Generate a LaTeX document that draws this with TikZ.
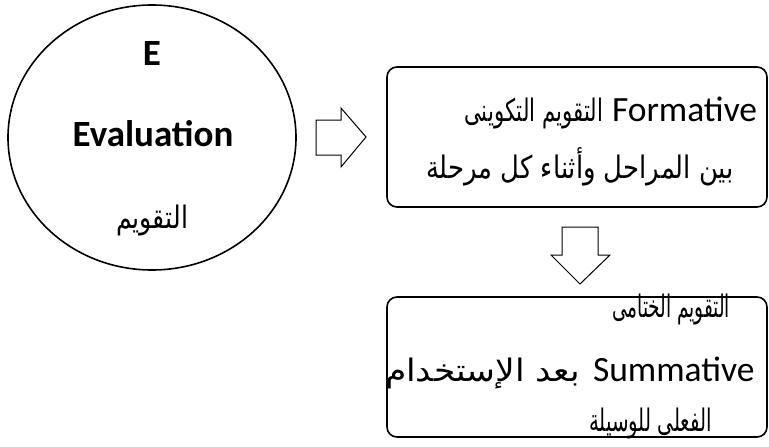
\documentclass[tikz,border=0pt]{standalone}
\usepackage{fontspec}
\usepackage{graphicx}
\usetikzlibrary{shapes.geometric}
\setmainfont{Carlito}
\newfontfamily\arabicfont[Script=Arabic]{DejaVu Sans}
\TeXXeTstate=1
% Arabic run at a fixed height, narrowed or stretched to a given width
\newcommand\arfit[2]{\resizebox{#1}{\height}{\arabicfont\fontsize{31}{37}\selectfont #2}}
\begin{document}
\begin{tikzpicture}[x=1pt,y=-1pt,
  outline/.style={draw=black,line width=1.6pt},
  blockarrow/.style={draw=black,line width=1pt,line join=miter,fill=white},
  txt/.style={inner sep=0pt,outer sep=0pt},
  big/.style={txt,font=\fontsize{37}{44}\selectfont\bfseries},
  latin/.style={txt,font=\fontsize{35.5}{42}\selectfont}]
\useasboundingbox[fill=white] (0,0) rectangle (769,447);

% circle with the stage name
\node[outline,ellipse,minimum width=288pt,minimum height=265pt,inner sep=0pt] (circ) at (152,137.5) {};
\node[big,anchor=base] (e) at (152,65) {E};
\node[big,anchor=base] (eval) at (153,146) {Evaluation};
\node[txt,anchor=base] (tq) at (152,228) {\arfit{72pt}{\beginR التقويم\endR}};

% formative box
\draw[outline,rounded corners=10pt] (387,67) rectangle (767,207);
\node[latin,anchor=base west] (form) at (612,121) {Formative};
\node[txt,anchor=base west] (form1) at (464,121) {\arfit{139pt}{\beginR التقويم التكوينى\endR}};
\node[txt,anchor=base west] (form2) at (426,178) {\arfit{308pt}{\beginR بين المراحل وأثناء كل مرحلة\endR}};

% summative box
\draw[outline,rounded corners=10pt] (387,297) rectangle (767,437);
\node[txt,anchor=base west] (sum1) at (612,317) {\arfit{118pt}{\beginR التقويم الختامى\endR}};
\node[txt,anchor=base west] (sum2a) at (385,381) {\arfit{195pt}{\beginR بعد الإستخدام\endR}};
\node[latin,anchor=base west] (sum) at (593,381) {Summative};
\node[txt,anchor=base west] (sum3) at (589,431) {\arfit{123pt}{\beginR الفعلى للوسيلة\endR}};

% block arrows
\draw[blockarrow] (316,120) -- (341,120) -- (341,108) -- (366,137) -- (341,167) -- (341,155) -- (316,155) -- cycle;
\draw[blockarrow] (562,227) -- (598,227) -- (598,255) -- (610,255) -- (580,284) -- (551,255) -- (562,255) -- cycle;
\end{tikzpicture}
\end{document}
